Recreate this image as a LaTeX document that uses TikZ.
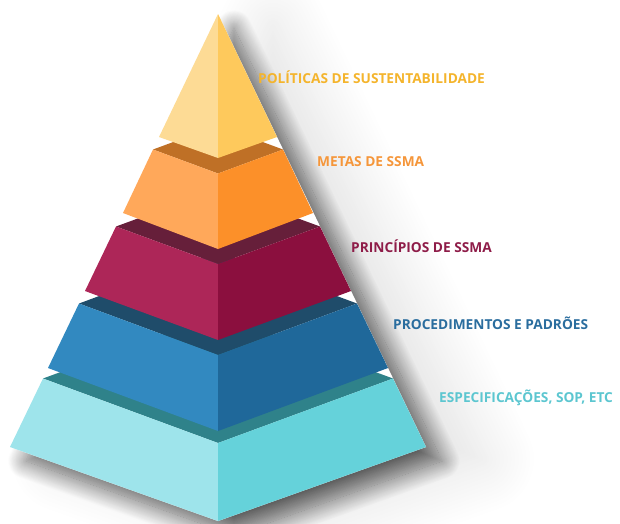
\documentclass[tikz,border=0pt]{standalone}
\usepackage{fontspec}
\setmainfont{Open Sans}
\usepackage{xcolor}
\usetikzlibrary{shadows.blur}

\definecolor{yelL}{HTML}{FDDB95}
\definecolor{yelR}{HTML}{FEC95C}
\definecolor{oraL}{HTML}{FFA85A}
\definecolor{oraR}{HTML}{FC9029}
\definecolor{oraT}{HTML}{BF7026}
\definecolor{purL}{HTML}{AD2658}
\definecolor{purR}{HTML}{8B0F3E}
\definecolor{purT}{HTML}{661F3A}
\definecolor{bluL}{HTML}{3289C0}
\definecolor{bluR}{HTML}{1F689A}
\definecolor{bluT}{HTML}{1F4C6A}
\definecolor{cyaL}{HTML}{9EE4EB}
\definecolor{cyaR}{HTML}{65D2DA}
\definecolor{cyaT}{HTML}{2F828A}
\definecolor{yelText}{HTML}{F4B42C}
\definecolor{oraText}{HTML}{F5963A}
\definecolor{purText}{HTML}{8E1C48}
\definecolor{bluText}{HTML}{2A6D9E}
\definecolor{cyaText}{HTML}{5CC6D0}

\tikzset{
    tier/.style={anchor=west, inner sep=0pt, font=\bfseries\fontsize{13.7}{16}\selectfont}
}

\begin{document}
\begin{tikzpicture}[x=1pt, y=-1pt]
    \useasboundingbox (0, 0) rectangle (620, 523);

    % soft shadow behind the whole pyramid
    \fill[white, blur shadow={shadow xshift=55pt, shadow yshift=-12pt,
            shadow blur radius=55pt, shadow opacity=12, shadow blur steps=30}]
        (218, 14) -- (426, 447) -- (218, 521) -- (10, 447) -- cycle;
    \fill[white, blur shadow={shadow xshift=16pt, shadow yshift=-14pt,
            shadow blur radius=18pt, shadow opacity=60, shadow blur steps=25}]
        (218, 14) -- (426, 447) -- (218, 521) -- (10, 447) -- cycle;

    % cyan
    \fill[cyaT] (43, 378.5) -- (218, 314) -- (393, 378.5) -- (218, 443) -- cycle;
    \fill[cyaL] (43, 378.5) -- (218, 443) -- (218, 521) -- (10, 447) -- cycle;
    \fill[cyaR] (218, 443) -- (393, 378.5) -- (426, 447) -- (218, 521) -- cycle;

    % blue
    \fill[bluT] (79, 303.5) -- (218, 252) -- (357, 303.5) -- (218, 355) -- cycle;
    \fill[bluL] (79, 303.5) -- (218, 355) -- (218, 431) -- (48, 368) -- cycle;
    \fill[bluR] (218, 355) -- (357, 303.5) -- (388, 368) -- (218, 431) -- cycle;

    % purple
    \fill[purT] (116, 226.5) -- (218, 189) -- (320, 226.5) -- (218, 264) -- cycle;
    \fill[purL] (116, 226.5) -- (218, 264) -- (218, 340) -- (85, 291) -- cycle;
    \fill[purR] (218, 264) -- (320, 226.5) -- (351, 291) -- (218, 340) -- cycle;

    % orange
    \fill[oraT] (153, 149.5) -- (218, 125.5) -- (283, 149.5) -- (218, 173.5) -- cycle;
    \fill[oraL] (153, 149.5) -- (218, 173.5) -- (218, 249) -- (123, 213) -- cycle;
    \fill[oraR] (218, 173.5) -- (283, 149.5) -- (313, 213) -- (218, 249) -- cycle;

    % yellow tip
    \fill[yelL] (218, 14) -- (218, 158) -- (159, 137) -- cycle;
    \fill[yelR] (218, 14) -- (277, 137) -- (218, 158) -- cycle;

    \node[tier, text=yelText] (politicas) at (258, 77) {POLÍTICAS DE SUSTENTABILIDADE};
    \node[tier, text=oraText] (metas) at (317, 162) {METAS DE SSMA};
    \node[tier, text=purText] (principios) at (351, 246) {PRINCÍPIOS DE SSMA};
    \node[tier, text=bluText] (procedimentos) at (393, 323) {PROCEDIMENTOS E PADRÕES};
    \node[tier, text=cyaText] (especificacoes) at (439, 398) {ESPECIFICAÇÕES, SOP, ETC};
\end{tikzpicture}
\end{document}
